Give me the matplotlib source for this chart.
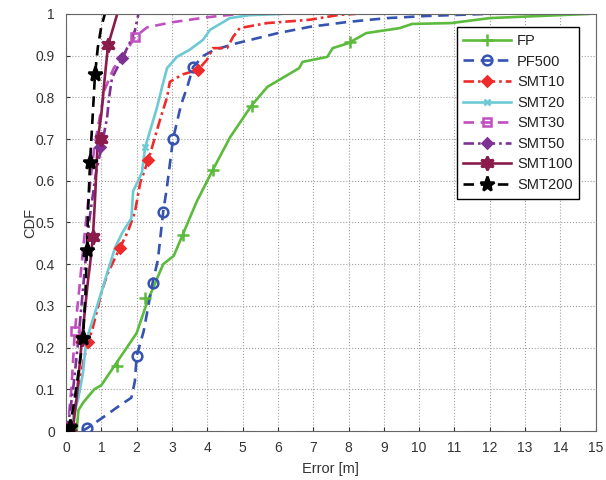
import matplotlib
matplotlib.use("Agg")
import matplotlib.pyplot as plt
from matplotlib.lines import Line2D

plt.rcParams['font.family'] = ['Liberation Sans', 'DejaVu Sans']

# CDF curves (error in m, cumulative fraction)
fp_x = [0.3, 0.35, 0.5, 0.8, 1.0, 1.4, 2.0, 2.3, 2.75, 3.05, 3.3, 3.7, 4.15, 4.65, 5.25, 5.7, 6.0,
        6.6, 6.7, 7.4, 7.55, 8.0, 8.5, 9.45, 9.8, 10.9, 12.0, 14.8]
fp_y = [0.0, 0.05, 0.07, 0.1, 0.11, 0.16, 0.235, 0.31, 0.40, 0.42, 0.47, 0.55, 0.625, 0.705, 0.78,
        0.825, 0.84, 0.87, 0.885, 0.897, 0.918, 0.93, 0.954, 0.966, 0.976, 0.978, 0.99, 1.0]
fp_mx = [1.44, 2.24, 3.3, 4.15, 5.26, 8.04]
fp_my = [0.155, 0.32, 0.47, 0.625, 0.78, 0.933]

pf_x = [0.45, 0.6, 1.0, 1.5, 1.85, 1.95, 2.0, 2.2, 2.45, 2.6, 2.75, 2.85, 3.03, 3.25, 3.45, 3.6,
        3.9, 4.2, 4.85, 6.0, 6.9, 8.0, 9.1, 10.2, 11.9]
pf_y = [0.0, 0.007, 0.03, 0.06, 0.08, 0.12, 0.18, 0.24, 0.355, 0.41, 0.525, 0.58, 0.70, 0.78,
        0.83, 0.873, 0.9, 0.914, 0.93, 0.954, 0.969, 0.981, 0.99, 0.995, 1.0]
pf_mx = [0.6, 2.0, 2.45, 2.75, 3.03, 3.6]
pf_my = [0.007, 0.18, 0.355, 0.525, 0.70, 0.873]

s10_x = [0.05, 0.2, 0.35, 0.5, 0.62, 0.75, 1.02, 1.19, 1.53, 1.76, 1.95, 2.1, 2.35, 2.66, 2.86,
         2.94, 3.3, 3.74, 3.99, 4.16, 4.56, 4.73, 4.92, 5.69, 6.9, 7.76, 8.2]
s10_y = [0.0, 0.03, 0.1, 0.17, 0.213, 0.245, 0.338, 0.38, 0.44, 0.48, 0.525, 0.595, 0.655, 0.746,
         0.80, 0.837, 0.855, 0.866, 0.89, 0.918, 0.918, 0.945, 0.966, 0.978, 0.986, 0.998, 1.0]
s10_mx = [0.62, 1.53, 2.32, 3.74]
s10_my = [0.213, 0.44, 0.65, 0.866]

s20_x = [0.05, 0.2, 0.35, 0.48, 0.55, 0.62, 1.02, 1.19, 1.39, 1.59, 1.85, 1.9, 2.15, 2.24, 2.38,
         2.58, 2.72, 2.86, 3.14, 3.5, 3.88, 4.08, 4.64, 5.2, 6.1]
s20_y = [0.0, 0.03, 0.08, 0.14, 0.2, 0.23, 0.338, 0.386, 0.44, 0.475, 0.51, 0.575, 0.62, 0.68,
         0.72, 0.777, 0.825, 0.87, 0.897, 0.914, 0.938, 0.962, 0.99, 0.997, 1.0]
s20_mx = [0.55, 2.24]
s20_my = [0.215, 0.68]

s30_x = [0.0, 0.05, 0.15, 0.25, 0.35, 0.5, 0.65, 0.8, 0.95, 1.1, 1.35, 1.7, 1.95, 2.3, 3.0, 4.0, 4.9]
s30_y = [0.0, 0.01, 0.1, 0.24, 0.32, 0.45, 0.57, 0.68, 0.75, 0.82, 0.87, 0.91, 0.945, 0.968,
         0.98, 0.992, 1.0]
s30_mx = [0.05, 0.25, 1.95]
s30_my = [0.01, 0.24, 0.945]

s50_x = [0.0, 0.05, 0.2, 0.35, 0.5, 0.65, 0.85, 1.0, 1.16, 1.22, 1.3, 1.59, 1.8, 1.95, 2.05]
s50_y = [0.0, 0.01, 0.1, 0.22, 0.36, 0.5, 0.62, 0.68, 0.75, 0.8, 0.846, 0.894, 0.93, 0.96, 1.0]
s50_mx = [0.05, 0.96, 1.59]
s50_my = [0.01, 0.68, 0.894]

s100_x = [0.1, 0.2, 0.3, 0.45, 0.62, 0.68, 0.76, 0.82, 0.9, 1.0, 1.1, 1.19, 1.45]
s100_y = [0.0, 0.01, 0.08, 0.22, 0.36, 0.40, 0.465, 0.555, 0.70, 0.76, 0.85, 0.925, 1.0]
s100_mx = [0.1, 0.45, 0.76, 0.98, 1.19]
s100_my = [0.01, 0.22, 0.465, 0.70, 0.925]

s200_x = [0.05, 0.11, 0.25, 0.4, 0.48, 0.55, 0.59, 0.63, 0.68, 0.75, 0.82, 0.9, 1.0, 1.1]
s200_y = [0.0, 0.01, 0.08, 0.17, 0.223, 0.33, 0.434, 0.54, 0.645, 0.75, 0.855, 0.92, 0.97, 1.0]
s200_mx = [0.11, 0.48, 0.59, 0.68, 0.82]
s200_my = [0.01, 0.223, 0.434, 0.645, 0.855]

labels = ['FP', 'PF500', 'SMT10', 'SMT20', 'SMT30', 'SMT50', 'SMT100', 'SMT200']
xticks = list(range(0, 16))
yticks = [i / 10 for i in range(11)]
ytick_labels = ['0', '0.1', '0.2', '0.3', '0.4', '0.5', '0.6', '0.7', '0.8', '0.9', '1']

series = [
    (fp_x, fp_y, fp_mx, fp_my, dict(color='#5cba3c', ls='-', marker='+', ms=9, mfc='#5cba3c')),
    (pf_x, pf_y, pf_mx, pf_my, dict(color='#3553b0', ls=(0, (4, 2.5)), marker='o', ms=7, mfc='none')),
    (s10_x, s10_y, s10_mx, s10_my, dict(color='#ee2a2a', ls=(0, (4, 1.5, 1, 1.5)), marker='D', ms=5, mfc='#ee2a2a')),
    (s20_x, s20_y, s20_mx, s20_my, dict(color='#6ccad4', ls='-', marker='x', ms=5, mfc='#6ccad4')),
    (s30_x, s30_y, s30_mx, s30_my, dict(color='#c04fc0', ls=(0, (4, 2.5)), marker='s', ms=6, mfc='none')),
    (s50_x, s50_y, s50_mx, s50_my, dict(color='#7e3193', ls=(0, (4, 1.5, 1, 1.5)), marker='D', ms=5, mfc='#7e3193')),
    (s100_x, s100_y, s100_mx, s100_my, dict(color='#8a1c4c', ls='-', marker=(6, 1, 0), ms=10, mfc='#8a1c4c')),
    (s200_x, s200_y, s200_mx, s200_my, dict(color='black', ls=(0, (4, 2.5)), marker='*', ms=11, mfc='black')),
]

fig = plt.figure(figsize=(6.06, 4.8), dpi=100)
ax = fig.add_axes([0.109, 0.102, 0.874, 0.869])

handles = []
for (x, y, mx, my, st), lab in zip(series, labels):
    ax.plot(x, y, color=st['color'], ls=st['ls'], lw=1.9, zorder=2)
    ax.plot(mx, my, ls='none', marker=st['marker'], ms=st['ms'], mec=st['color'],
            mfc=st['mfc'], mew=1.8, zorder=3)
    handles.append(Line2D([], [], color=st['color'], ls=st['ls'], lw=1.9, marker=st['marker'],
                          ms=st['ms'], mec=st['color'], mfc=st['mfc'], mew=1.8))

ax.set_xlim(0, 15)
ax.set_ylim(0, 1)
ax.set_xticks(xticks)
ax.set_yticks(yticks)
ax.set_yticklabels(ytick_labels)
ax.tick_params(direction='in', labelsize=10, colors='#333333', length=3)
ax.tick_params(axis='x', pad=7)
ax.tick_params(axis='y', pad=8)
ax.grid(True, ls=':', color='#a0a0a0', lw=0.8)
ax.set_axisbelow(True)
for sp in ax.spines.values():
    sp.set_color('#666666')
ax.set_xlabel('Error [m]', fontsize=10.5, color='#333333', labelpad=5)
ax.set_ylabel('CDF', fontsize=10.5, color='#333333', labelpad=-1)

leg = ax.legend(handles, labels, loc='upper right', bbox_to_anchor=(0.983, 0.985),
                fontsize=10.5, handlelength=3.3, fancybox=False, framealpha=1,
                edgecolor='black', borderpad=0.45, labelspacing=0.45, handletextpad=0.4)
leg.get_frame().set_linewidth(1.0)
for t in leg.get_texts():
    t.set_color('#222222')

fig.savefig('out.png', dpi=100)
